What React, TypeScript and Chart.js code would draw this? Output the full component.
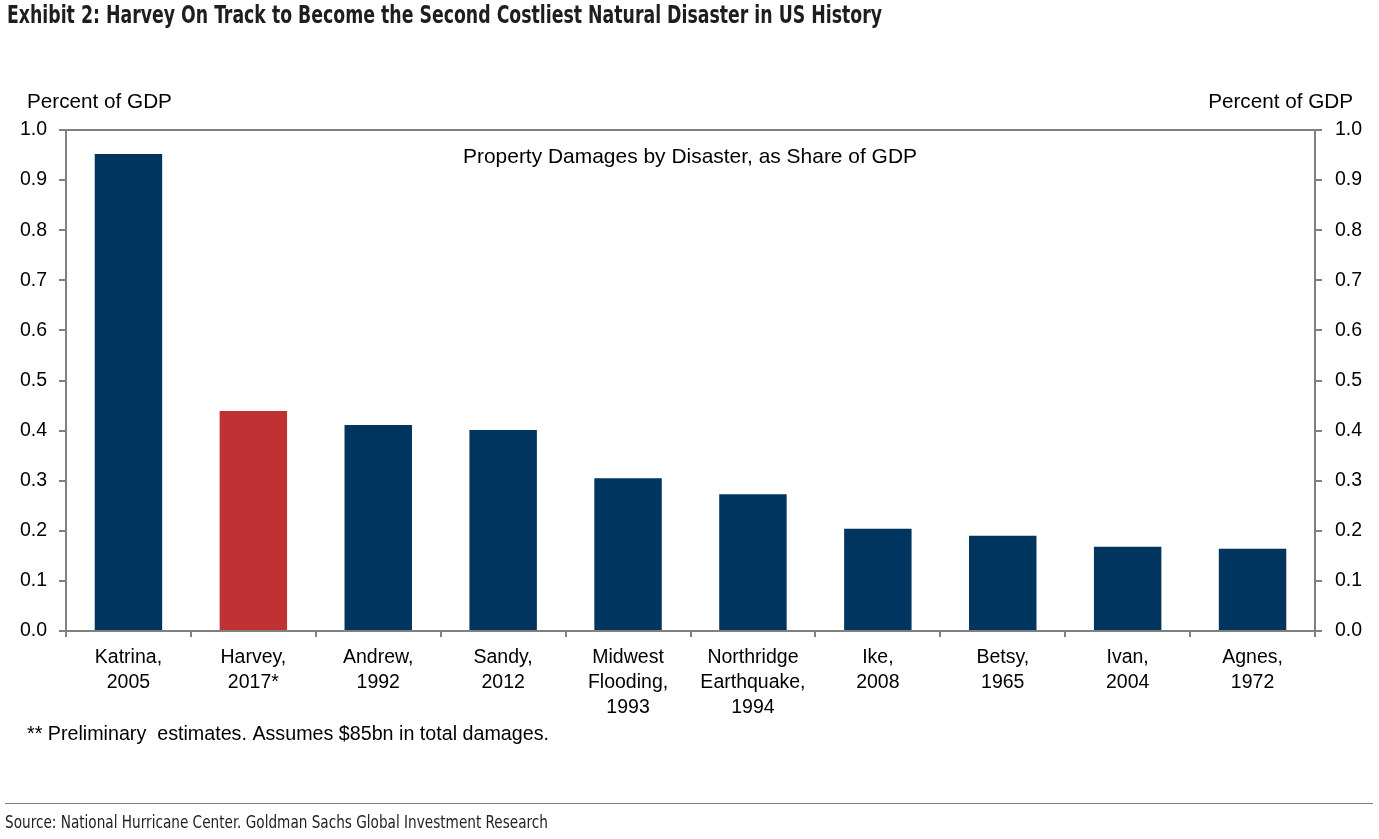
import React, { useEffect, useRef } from "react";
import { Chart, registerables } from "chart.js";

Chart.register(...registerables);

const categories: string[][] = [
  ["Katrina,", "2005"],
  ["Harvey,", "2017*"],
  ["Andrew,", "1992"],
  ["Sandy,", "2012"],
  ["Midwest", "Flooding,", "1993"],
  ["Northridge", "Earthquake,", "1994"],
  ["Ike,", "2008"],
  ["Betsy,", "1965"],
  ["Ivan,", "2004"],
  ["Agnes,", "1972"],
];
const damagesShareOfGDP: number[] = [0.952, 0.439, 0.411, 0.401, 0.305, 0.273, 0.204, 0.19, 0.168, 0.164];
const highlightIndex = 1;

const titleText = "Exhibit 2: Harvey On Track to Become the Second Costliest Natural Disaster in US History";
const innerTitle = "Property Damages by Disaster, as Share of GDP";
const axisTitle = "Percent of GDP";
const footnote = "** Preliminary  estimates. Assumes $85bn in total damages.";
const sourceText = "Source: National Hurricane Center. Goldman Sachs Global Investment Research";

const NAVY = "#00355f";
const RED = "#bf3133";
const GRAY = "#808080";
const SANS = '"Liberation Sans", Arial, sans-serif';
const NARROW = '"Liberation Sans Narrow", "DejaVu Sans Condensed", sans-serif';

export default function App() {
  const ref = useRef<HTMLCanvasElement | null>(null);
  useEffect(() => {
    if (!ref.current) return;
    const textPlugin = {
      id: "texts",
      afterDraw(chart: any) {
        const ctx = chart.ctx;
        const a = chart.chartArea;
        ctx.save();
        // top border
        ctx.strokeStyle = GRAY;
        ctx.lineWidth = 2;
        ctx.beginPath();
        ctx.moveTo(a.left, a.top);
        ctx.lineTo(a.right, a.top);
        ctx.stroke();
        // title
        ctx.fillStyle = "#1e1e1e";
        ctx.textBaseline = "middle";
        ctx.textAlign = "left";
        ctx.font = "bold 24px " + NARROW;
        ctx.fillText(titleText, 7, 17, 875);
        // axis titles
        ctx.fillStyle = "#000";
        ctx.font = "20.7px " + SANS;
        ctx.fillText(axisTitle, 27, 102, 145);
        ctx.textAlign = "right";
        ctx.fillText(axisTitle, 1353, 102, 145);
        ctx.font = "21px " + SANS;
        ctx.textAlign = "center";
        ctx.fillText(innerTitle, 690, 157, 454);
        ctx.textAlign = "left";
        ctx.font = "19.7px " + SANS;
        ctx.fillText(footnote, 27, 735, 522);
        // source line
        ctx.strokeStyle = GRAY;
        ctx.lineWidth = 1;
        ctx.beginPath();
        ctx.moveTo(5, 803.5);
        ctx.lineTo(1373, 803.5);
        ctx.stroke();
        ctx.fillStyle = "#222";
        ctx.font = "17px " + NARROW;
        ctx.fillText(sourceText, 5, 824, 543);
        ctx.restore();
      },
    };
    const tickFont = { family: SANS, size: 19.5 };
    const chart = new Chart(ref.current, {
      type: "bar",
      data: {
        labels: categories,
        datasets: [
          {
            data: damagesShareOfGDP,
            backgroundColor: damagesShareOfGDP.map((_, i) => (i === highlightIndex ? RED : NAVY)),
            categoryPercentage: 1,
            barPercentage: 0.54,
            yAxisID: "y",
          },
        ],
      },
      options: {
        animation: false,
        responsive: false,
        layout: { padding: { top: 130, left: 0, right: 0, bottom: 0 } },
        plugins: { legend: { display: false }, tooltip: { enabled: false } },
        scales: {
          x: {
            position: "bottom",
            offset: true,
            grid: { display: true, drawOnChartArea: false, drawTicks: true, tickLength: 6, color: GRAY, lineWidth: 2, offset: true },
            border: { display: true, color: GRAY, width: 2 },
            ticks: { font: { ...tickFont, lineHeight: "25px" }, color: "#000", padding: 8, maxRotation: 0, autoSkip: false },
            afterFit: (s: any) => {
              s.height = 208;
            },
          },
          y: {
            position: "left",
            min: 0,
            max: 1,
            grid: { display: true, drawOnChartArea: false, drawTicks: true, tickLength: 7, color: GRAY, lineWidth: 2 },
            border: { display: true, color: GRAY, width: 2 },
            ticks: { stepSize: 0.1, font: tickFont, color: "#000", padding: 12, callback: (v: any) => Number(v).toFixed(1) },
            afterFit: (s: any) => {
              s.width = 66;
            },
          },
          y2: {
            position: "right",
            display: true,
            min: 0,
            max: 1,
            grid: { display: true, drawOnChartArea: false, drawTicks: true, tickLength: 7, color: GRAY, lineWidth: 2 },
            border: { display: true, color: GRAY, width: 2 },
            ticks: { stepSize: 0.1, font: tickFont, color: "#000", padding: 13, callback: (v: any) => Number(v).toFixed(1) },
            afterFit: (s: any) => {
              s.width = 64;
            },
          },
        },
      },
      plugins: [textPlugin],
    } as any);
    return () => chart.destroy();
  }, []);
  return (
    <div style={{ position: "absolute", left: 0, top: 0, width: 1379, height: 839, background: "#fff" }}>
      <canvas ref={ref} width={1379} height={839} style={{ display: "block" }} />
    </div>
  );
}
